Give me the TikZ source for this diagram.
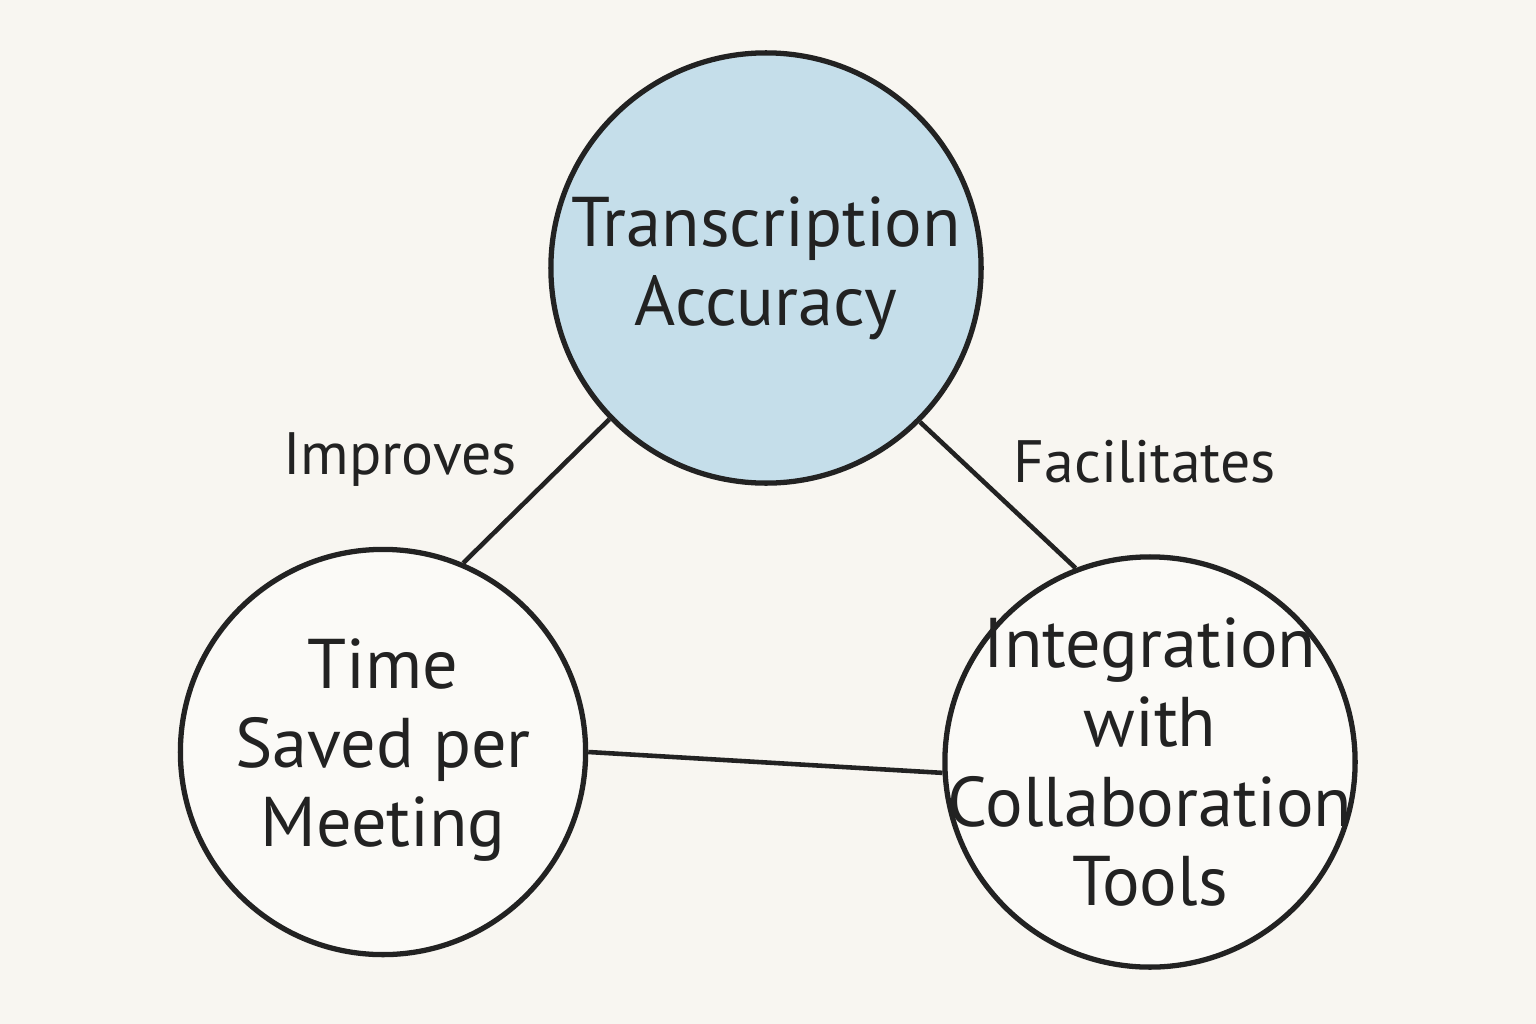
\documentclass[tikz,border=0pt]{standalone}
\usepackage{fontspec}
\setmainfont{PT Sans}
\definecolor{paper}{HTML}{F8F6F1}
\definecolor{bubble}{HTML}{C5DEEA}
\definecolor{ink}{HTML}{222222}
\begin{document}
\begin{tikzpicture}[x=0.01cm,y=-0.01cm,
    topic/.style={circle,draw=ink,line width=1.5pt,inner sep=0pt},
    caption/.style={align=center,font=\fontsize{20}{22.5}\selectfont,text=ink},
    link/.style={draw=ink,line width=1.3pt},
    tag/.style={font=\fontsize{17}{20}\selectfont,text=ink}]
\fill[paper] (0,0) rectangle (1536,1024);
\useasboundingbox (0,0) rectangle (1536,1024);

% the three topics
\node[topic,fill=bubble,minimum size=4.3cm] (acc) at (766,268) {};
\node[topic,fill=white!40!paper,minimum size=4.05cm] (time) at (383,752) {};
\node[topic,fill=white!40!paper,minimum size=4.1cm] (tools) at (1150,762) {};
\node[caption] (acctext) at (acc) {Transcription\\Accuracy};
\node[caption] (timetext) at (383,750) {Time\\Saved per\\Meeting};
\node[caption] (toolstext) at (1150,762) {Integration\\with\\Collaboration\\Tools};

% connectors
\draw[link] (acc.224) -- (time.67);
\draw[link] (acc.315) -- (tools.111);
\draw[link] (time.0) -- (tools.183);

% labels
\node[tag] (imp) at (400,460) {Improves};
\node[tag] (fac) at (1145,462) {Facilitates};
\end{tikzpicture}
\end{document}
